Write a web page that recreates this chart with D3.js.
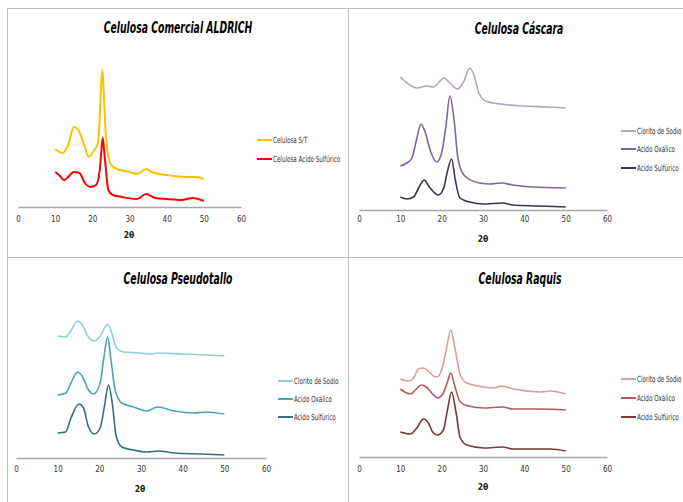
<!DOCTYPE html>
<html>
<head>
<meta charset="utf-8">
<script src="https://cdn.jsdelivr.net/npm/d3@7"></script>
<style>
  html, body { margin: 0; padding: 0; background: #fff; }
  svg { display: block; }
  .ttl { font-family: "DejaVu Sans", sans-serif; font-weight: bold; font-style: italic; }
  .lbl { font-family: "DejaVu Sans", sans-serif; }
</style>
</head>
<body>
<svg id="chart" width="683" height="502"></svg>
<script>
// ---- Data: [2θ, intensity (a.u.)] ----
const xTicks = [0, 10, 20, 30, 40, 50, 60];

const aldrichST = [[10,58],[12,54],[13.5,62],[15,80],[16.5,75],[18,60],[19,50],[20.5,57],[21.5,64],[22,90],[22.4,125],[22.7,137],[23,120],[23.5,80],[24,58],[24.5,47],[26,39],[30,35],[32,33],[34.5,38],[36,35],[40,32],[45,30],[48,30],[50,28]];
const aldrichSulf = [[10,35],[11,32],[12.5,27],[13.5,30],[15,35],[16.5,34],[18,24],[19.5,20],[21,22],[22,37],[22.4,55],[22.8,69],[23.2,55],[23.6,40],[24.3,17],[25.5,12],[28,10],[32,8],[34.5,13],[37,9],[40,8],[44,7],[47,9],[50,6]];

const cascaraClorito = [[10,133],[11.6,127],[14,122],[16.4,124],[18,123],[19.2,127],[20.5,132],[22,127],[23.8,121],[25.3,128],[26.8,142],[27.8,135],[29,117],[30.6,109],[34.2,106],[40,104],[45.5,103],[50,102]];
const cascaraOxalico = [[10,44],[11.6,47],[12.8,52],[13.9,70],[15,86],[16,78],[17.2,60],[18.8,48],[20,57],[21,83],[22,114],[23,90],[24,50],[25.6,34],[29.2,27],[31.6,26],[34.4,27],[37.2,25],[42,23],[50,22]];
const cascaraSulf = [[10,13],[11.6,11],[13.2,13],[14.8,25],[15.8,30],[17,23],[19.2,15],[20.5,22],[21.3,37],[22.4,51],[23.3,30],[24.4,12],[26.8,8],[30,6],[34.8,7],[37.2,5],[43.5,4],[50,3]];

const pseudoClorito = [[10,122],[11.9,121],[13,126],[14.7,137],[15.8,134],[17.4,121],[18.7,117],[20.2,122],[22,134],[23,125],[24,111],[25.8,106],[29.8,105],[32.2,104],[34,105],[40.2,104],[46,103],[50,102]];
const pseudoOxalico = [[10,63],[12,65],[13.2,75],[14.8,86],[16,81],[17.4,68],[18.6,64],[20.2,75],[21.1,101],[22,121],[22.8,98],[23.8,68],[25.4,55],[28.2,51],[31.4,47],[34,51],[38,47],[42.8,45],[45.6,46],[50,44]];
const pseudoSulf = [[10,25],[11.9,26],[13.2,40],[15.1,54],[16.2,50],[17.4,31],[18.8,24],[20.2,30],[21.2,51],[22.2,73],[23.1,55],[24,23],[25.4,11],[28.2,8],[31.4,6],[34.2,7],[38,5],[44.6,4],[50,3]];

const raquisClorito = [[10,78],[12,76],[13.2,79],[14.4,88],[15.6,89],[16.8,86],[18,81],[18.8,80],[20,87],[21.1,107],[22.2,127],[23.3,107],[24.5,82],[26.1,74],[30.2,70],[32.6,69],[34.6,71],[37.4,68],[43.9,65],[46.3,66],[50,63]];
const raquisOxalico = [[10,68],[12.4,63],[13.9,68],[15,72],[16.3,70],[17.6,64],[19,59],[20.4,64],[21.4,75],[22.2,84],[23.3,69],[24.5,55],[26.5,51],[30.2,49],[34.6,50],[37.4,48],[43.9,48],[50,47]];
const raquisSulf = [[10,25],[12.4,23],[14,29],[15.6,38],[16.8,34],[17.8,25],[19,22],[20.4,27],[21.4,47],[22.4,65],[23.5,44],[24.5,19],[26.1,12],[30.2,9],[34.6,10],[37.4,8],[46.3,8],[50,6]];

const titles = ["Celulosa Comercial ALDRICH", "Celulosa Cáscara", "Celulosa Pseudotallo", "Celulosa Raquis"];
const names1 = ["Celulosa S/T", "Celulosa Acido Sulfúrico"];
const names3 = ["Clorito de Sodio", "Acido Oxálico", "Acido Sulfúrico"];
const axisTitle = "2θ";

// ---- Layout ----
const panels = [
  { title: titles[0], xr: [18, 241], axisY: 207, pad: 9, lab: [129, 235], t: [178, 28],
    leg: { x: 257, ys: [140, 159] }, sw: 2,
    series: [ {n: names1[0], d: aldrichST, c: "#FFC000"}, {n: names1[1], d: aldrichSulf, c: "#FF0000"} ] },
  { title: titles[1], xr: [359, 607], axisY: 210, pad: 6, lab: [483, 239], t: [519, 29],
    leg: { x: 621, ys: [131, 149, 168] }, sw: 1.6,
    series: [ {n: names3[0], d: cascaraClorito, c: "#B3A2C7"}, {n: names3[1], d: cascaraOxalico, c: "#8064A2"}, {n: names3[2], d: cascaraSulf, c: "#3F3151"} ] },
  { title: titles[2], xr: [16, 266], axisY: 458, pad: 8, lab: [140, 489], t: [178, 279],
    leg: { x: 278, ys: [381, 399, 417] }, sw: 1.6,
    series: [ {n: names3[0], d: pseudoClorito, c: "#93CDDD"}, {n: names3[1], d: pseudoOxalico, c: "#4BA3B5"}, {n: names3[2], d: pseudoSulf, c: "#35707E"} ] },
  { title: titles[3], xr: [359, 607], axisY: 457, pad: 9, lab: [483, 487], t: [520, 279],
    leg: { x: 621, ys: [379, 398, 417] }, sw: 1.6,
    series: [ {n: names3[0], d: raquisClorito, c: "#E09C9A"}, {n: names3[1], d: raquisOxalico, c: "#B45A58"}, {n: names3[2], d: raquisSulf, c: "#7A3835"} ] }
];

// condensed text (reference uses a narrow font): horizontal scale on a wrapper group
function condText(parent, x, y, f, txt) {
  const g = parent.append("g").attr("transform", `translate(${x},${y}) scale(${f},1)`);
  return g.append("text").attr("x", 0).attr("y", 0).attr("dy", "0.35em").text(txt);
}

const svg = d3.select("#chart");
svg.append("rect").attr("width", 683).attr("height", 502).attr("fill", "#fff");

// panel borders
const bc = "#BFBFBF";
svg.append("line").attr("x1", 7.5).attr("x2", 7.5).attr("y1", 8).attr("y2", 502).attr("stroke", bc);
svg.append("line").attr("x1", 348.5).attr("x2", 348.5).attr("y1", 8).attr("y2", 502).attr("stroke", bc);
svg.append("line").attr("x1", 7).attr("x2", 683).attr("y1", 8.5).attr("y2", 8.5).attr("stroke", bc);
svg.append("line").attr("x1", 7).attr("x2", 683).attr("y1", 257.5).attr("y2", 257.5).attr("stroke", bc);

panels.forEach(p => {
  const g = svg.append("g");
  const x = d3.scaleLinear().domain([0, 60]).range(p.xr);
  const y = d3.scaleLinear().domain([0, 160]).range([p.axisY, p.axisY - 160]);

  const ax = g.append("g").attr("transform", `translate(0,${p.axisY})`)
    .call(d3.axisBottom(x).tickValues(xTicks).tickSize(0).tickPadding(p.pad));
  ax.select(".domain").attr("stroke", "#A6A6A6").attr("stroke-width", 1.5);
  ax.attr("font-family", null).attr("font-size", null);
  ax.selectAll(".tick text").attr("class", "lbl").attr("font-size", 9).attr("fill", "#333")
    .attr("transform", "scale(0.8,1)");

  condText(g, p.lab[0], p.lab[1], 0.85, axisTitle).attr("class", "lbl")
    .attr("text-anchor", "middle").attr("font-size", 9).attr("font-weight", "bold").attr("fill", "#222");

  condText(g, p.t[0], p.t[1], 0.6, p.title).attr("class", "ttl")
    .attr("text-anchor", "middle").attr("font-size", 15.5).attr("fill", "#000");

  const line = d3.line().x(d => x(d[0])).y(d => y(d[1])).curve(d3.curveMonotoneX);
  p.series.forEach((s, i) => {
    g.append("path").datum(s.d).attr("d", line).attr("fill", "none")
      .attr("stroke", s.c).attr("stroke-width", p.sw).attr("stroke-linejoin", "round");
    const ly = p.leg.ys[i];
    g.append("line").attr("x1", p.leg.x).attr("x2", p.leg.x + 15).attr("y1", ly).attr("y2", ly)
      .attr("stroke", s.c).attr("stroke-width", 2);
    condText(g, p.leg.x + 16, ly, 0.66, s.n).attr("class", "lbl")
      .attr("font-size", 8.5).attr("fill", "#333");
  });
});
</script>
</body>
</html>
